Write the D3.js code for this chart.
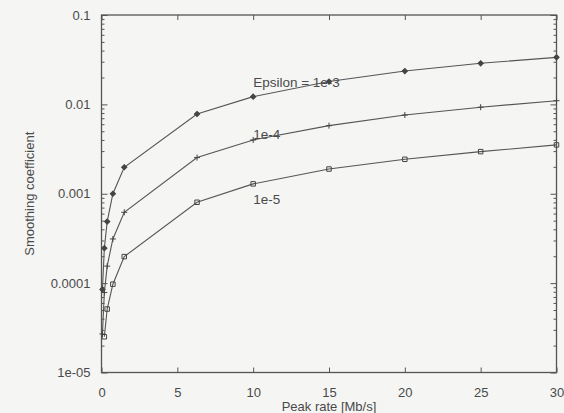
<!DOCTYPE html>
<html>
<head>
<meta charset="utf-8">
<script src="https://cdn.jsdelivr.net/npm/d3@7"></script>
<style>
  body { margin: 0; background: #f5f5f3; }
  svg { display: block; font-family: "Liberation Sans", Arial, sans-serif; }
  .axis text { fill: #4a4a4a; font-size: 13px; }
  .axis path, .axis line { stroke: #555; }
</style>
</head>
<body>
<div id="chart"></div>
<script>
// Data
const peakRates = [0.0625, 0.1875, 0.375, 0.75, 1.5, 6.3, 10, 15, 20, 25, 30];
const eps1e3 = [0.000085, 0.000246, 0.000488, 0.001, 0.00198, 0.0078, 0.0122, 0.018, 0.0236, 0.0288, 0.0336];
const eps1e4 = [0.000027, 0.0000785, 0.000155, 0.000312, 0.00062, 0.00254, 0.0040, 0.00578, 0.0076, 0.0093, 0.0110];
const eps1e5 = [null, 0.0000251, 0.0000513, 0.0000973, 0.000198, 0.000803, 0.00129, 0.00189, 0.00243, 0.00296, 0.00352];
const xTicks = [0, 5, 10, 15, 20, 25, 30];
const yTicks = [1e-5, 1e-4, 1e-3, 1e-2, 1e-1];
const yTickLabels = ["1e-05", "0.0001", "0.001", "0.01", "0.1"];

const W = 564, H = 413;
const margin = { top: 15, right: 7.5, bottom: 40.5, left: 101.5 };
const width = W - margin.left - margin.right;
const height = H - margin.top - margin.bottom;

const svg = d3.select("#chart").append("svg")
    .attr("width", W)
    .attr("height", H);

const g = svg.append("g")
    .attr("transform", `translate(${margin.left},${margin.top})`);

const x = d3.scaleLinear().domain([0, 30]).range([0, width]);
const y = d3.scaleLog().domain([1e-5, 0.1]).range([height, 0]);

// minor ticks for the log axis
const minor = [];
for (let e = -5; e < -1; e++) {
    for (let k = 2; k <= 9; k++) minor.push(k * Math.pow(10, e));
}

// bottom / top
g.append("g").attr("class", "axis")
    .attr("transform", `translate(0,${height})`)
    .call(d3.axisBottom(x).tickValues(xTicks).tickSizeInner(-5).tickSizeOuter(0).tickPadding(15))
    .call(a => a.select(".domain").remove());
g.append("g").attr("class", "axis")
    .call(d3.axisTop(x).tickValues(xTicks).tickSizeInner(-5).tickSizeOuter(0).tickFormat(""))
    .call(a => a.select(".domain").remove());

// left / right
g.append("g").attr("class", "axis")
    .call(d3.axisLeft(y).tickValues(yTicks).tickSizeInner(-6).tickSizeOuter(0).tickPadding(11)
        .tickFormat((d, i) => yTickLabels[i]))
    .call(a => a.select(".domain").remove());
g.append("g").attr("class", "axis")
    .call(d3.axisLeft(y).tickValues(minor).tickSizeInner(-3).tickSizeOuter(0).tickFormat(""))
    .call(a => a.select(".domain").remove());
g.append("g").attr("class", "axis")
    .attr("transform", `translate(${width},0)`)
    .call(d3.axisRight(y).tickValues(yTicks).tickSizeInner(-6).tickSizeOuter(0).tickFormat(""))
    .call(a => a.select(".domain").remove());
g.append("g").attr("class", "axis")
    .attr("transform", `translate(${width},0)`)
    .call(d3.axisRight(y).tickValues(minor).tickSizeInner(-3).tickSizeOuter(0).tickFormat(""))
    .call(a => a.select(".domain").remove());

// frame
g.append("rect")
    .attr("width", width).attr("height", height)
    .attr("fill", "none").attr("stroke", "#555").attr("stroke-width", 1.3);

const plus = "M-3,0H3M0,-3V3";
const series = [
    { name: "1e-3", values: eps1e3, d: d3.symbol().type(d3.symbolSquare).size(14)(), rot: 45, fill: "#444" },
    { name: "1e-4", values: eps1e4, d: plus, rot: 0, fill: "none" },
    { name: "1e-5", values: eps1e5, d: d3.symbol().type(d3.symbolSquare).size(20)(), rot: 0, fill: "none" }
];

const line = d3.line()
    .defined(d => d.v != null)
    .x(d => x(d.x))
    .y(d => y(d.v));

series.forEach(s => {
    const pts = peakRates.map((r, i) => ({ x: r, v: s.values[i] }));
    g.append("path")
        .datum(pts)
        .attr("fill", "none")
        .attr("stroke", "#555")
        .attr("stroke-width", 1.1)
        .attr("d", line);

    g.selectAll(null)
        .data(pts.filter(d => d.v != null))
        .enter()
        .append("path")
        .attr("transform", d => `translate(${x(d.x)},${y(d.v)}) rotate(${s.rot})`)
        .attr("d", s.d)
        .attr("fill", s.fill)
        .attr("stroke", "#444")
        .attr("stroke-width", 1);
});

// curve labels
const labels = [
    { text: "Epsilon = 1e-3", x: 10, v: 0.0158 },
    { text: "1e-4", x: 10, v: 0.0041 },
    { text: "1e-5", x: 10, v: 0.00077 }
];
g.selectAll(".curve-label")
    .data(labels)
    .enter()
    .append("text")
    .attr("class", "curve-label")
    .attr("x", d => x(d.x))
    .attr("y", d => y(d.v))
    .attr("fill", "#4a4a4a")
    .style("font-size", "13.5px")
    .text(d => d.text);

// axis titles
svg.append("text")
    .attr("x", margin.left + width / 2)
    .attr("y", H - 2)
    .attr("text-anchor", "middle")
    .attr("fill", "#4a4a4a")
    .style("font-size", "13px")
    .text("Peak rate [Mb/s]");

svg.append("text")
    .attr("transform", `translate(34,${margin.top + height / 2}) rotate(-90)`)
    .attr("text-anchor", "middle")
    .attr("fill", "#4a4a4a")
    .style("font-size", "13px")
    .text("Smoothing coefficient");
</script>
</body>
</html>
